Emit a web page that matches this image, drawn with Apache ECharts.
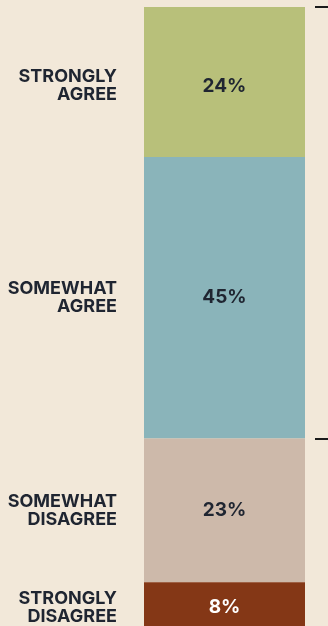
<!DOCTYPE html>
<html><head><meta charset="utf-8">
<script src="https://cdn.jsdelivr.net/npm/echarts@6/dist/echarts.min.js"></script>
<style>html,body{margin:0;padding:0;background:#f2e8d9;}#c{width:328px;height:626px;}</style>
</head><body><div id="c"></div>
<script>
var categories = ['STRONGLY\nAGREE', 'SOMEWHAT\nAGREE', 'SOMEWHAT\nDISAGREE', 'STRONGLY\nDISAGREE'];
var values = [24, 45, 23, 8];
var bracketTicks = [0, 69];
var colors = ['#b8c07a', '#8ab4ba', '#cdb9aa', '#843716'];
var labelColors = ['#1f2531', '#1f2531', '#1f2531', '#ffffff'];
var labelShift = [4, 0, 0, 0];

var chart = echarts.init(document.getElementById('c'));
var series = values.map(function (v, i) {
  return {
    type: 'bar', stack: 's', barWidth: 161, silent: true, clip: false,
    data: [
      { value: v, itemStyle: { color: 'rgba(0,0,0,0)' },
        label: { show: true, position: 'insideRight', distance: 27, offset: [0, labelShift[i]], formatter: categories[i],
                 fontFamily: 'Inter', fontWeight: 700, fontSize: 18, lineHeight: 18, color: '#1f2531', align: 'right' } },
      { value: v, itemStyle: { color: colors[i] },
        label: { show: true, position: 'inside', offset: [0, labelShift[i]], formatter: v + '%',
                 fontFamily: 'Inter', fontWeight: 700, fontSize: 19, color: labelColors[i] } }
    ]
  };
});
chart.setOption({
  backgroundColor: '#f2e8d9',
  animation: false,
  grid: { left: -17, width: 322, top: 7, bottom: 0, containLabel: false, outerBoundsMode: 'none' },
  xAxis: { type: 'category', data: ['label', 'bar'], show: false },
  yAxis: [
    { type: 'value', inverse: true, min: 0, max: 99, show: false },
    { type: 'value', inverse: true, min: 0, max: 99, position: 'right', offset: 10,
      axisLine: { show: false }, splitLine: { show: false }, axisLabel: { show: false },
      axisTick: { show: true, customValues: bracketTicks, length: 13, lineStyle: { color: '#1a1a1a', width: 2 } } }
  ],
  series: series
});
</script></body></html>
